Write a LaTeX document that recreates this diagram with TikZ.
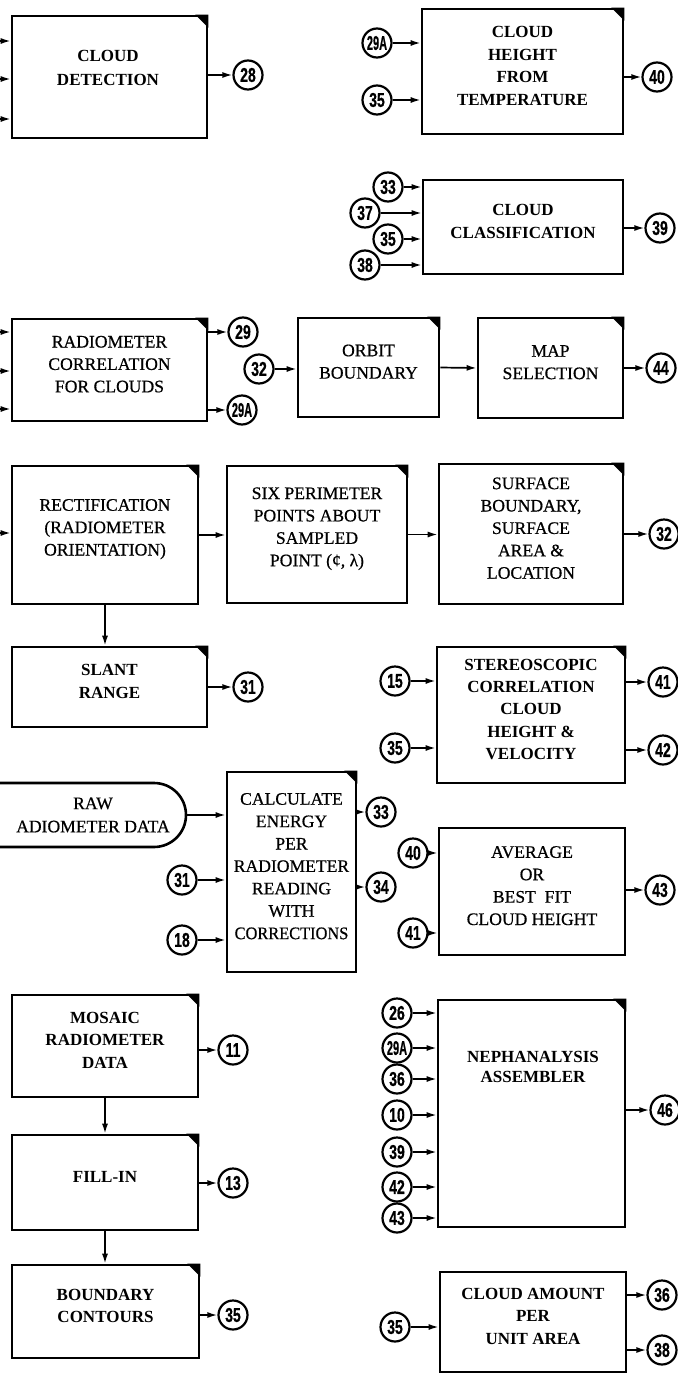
\documentclass[tikz,border=0pt]{standalone}
\usepackage{fontspec}
\setmainfont{Liberation Serif}
\newfontfamily\medfont{Liberation Serif}[FakeBold=0.6]
\newfontfamily\numfont{Liberation Sans}[FakeBold=0.8]
\usetikzlibrary{fit,arrows.meta}
\newcommand\nm[1]{\scalebox{0.7}[1]{#1}}
\newcommand\nmA[1]{\scalebox{0.55}[1]{#1}}
\newcommand\ear[1]{\fill (#1.north east) -- ([xshift=-6.5pt]#1.north east) -- ([yshift=-6.5pt]#1.north east) -- cycle;}
\begin{document}
\begin{tikzpicture}[x=0.5pt,y=-0.5pt,
  box/.style={draw,line width=1.3pt,inner sep=0pt,align=center,
    font=\bfseries\fontsize{8.5}{11.2}\selectfont},
  boxr/.style={box,font=\medfont\fontsize{8.8}{11.2}\selectfont},
  txtb/.style={align=center,inner sep=0pt,font=\bfseries\fontsize{8.5}{9.8}\selectfont},
  txtr/.style={align=center,inner sep=0pt,font=\medfont\fontsize{8.8}{11.6}\selectfont},
  num/.style={circle,draw,line width=1.1pt,minimum size=14.5pt,inner sep=0pt,
    font=\numfont\bfseries\fontsize{10}{10}\selectfont},
  arr/.style={line width=0.85pt,-{Latex[length=5pt,width=3pt]}},
  ln/.style={line width=1.3pt}]
\path[fill=white,use as bounding box] (0,0) rectangle (678,1376);

% ---------- boxes ----------
\node[box,fit={(12,16) (207,138)}] (detect) {};
\node[txtb] (tdetect) at (108,68) {CLOUD\\[2pt]DETECTION};
\node[box,fit={(422,9) (623,134)}] (cheight) {CLOUD\\HEIGHT\\FROM\\TEMPERATURE};
\node[box,fit={(423,180) (623,274)}] (cclass) {CLOUD\\CLASSIFICATION};
\node[boxr,fit={(12,319) (207,421)}] (radio) {RADIOMETER\\CORRELATION\\FOR CLOUDS};
\node[boxr,fit={(298,318) (439,417)}] (orbit) {ORBIT\\BOUNDARY};
\node[boxr,fit={(478,318) (623,418)}] (map) {MAP\\SELECTION};
\node[boxr,fit={(12,466) (198,604)}] (rect) {RECTIFICATION\\(RADIOMETER\\ORIENTATION)};
\node[boxr,fit={(227,466) (407,603)}] (six) {SIX PERIMETER\\POINTS ABOUT\\SAMPLED\\POINT (¢, λ)};
\node[boxr,fit={(439,464) (623,604)}] (surf) {SURFACE\\BOUNDARY,\\SURFACE\\AREA \&\\LOCATION};
\node[box,fit={(12,647) (207,727)}] (slant) {SLANT\\RANGE};
\node[box,fit={(437,647) (625,783)}] (stereo) {STEREOSCOPIC\\CORRELATION\\CLOUD\\HEIGHT \&\\VELOCITY};
\node[boxr,fit={(227,772) (356,972)}] (calc) {CALCULATE\\ENERGY\\PER\\RADIOMETER\\READING\\WITH\\\scalebox{0.93}[1]{CORRECTIONS}};
\node[boxr,fit={(439,828) (625,955)}] (avg) {AVERAGE\\OR\\BEST\ \ FIT\\CLOUD HEIGHT};
\node[box,fit={(12,995) (198,1097)}] (mosaic) {MOSAIC\\RADIOMETER\\DATA};
\node[box,fit={(12,1135) (198,1230)}] (fill) {FILL-IN};
\node[box,fit={(12,1265) (199,1358)}] (bound) {BOUNDARY\\CONTOURS};
\node[box,fit={(438,1000) (625,1227)}] (neph) {};
\node[txtb] (tneph) at (533,1067) {NEPHANALYSIS\\ASSEMBLER};
\node[box,fit={(440,1272) (626,1372)}] (camt) {CLOUD AMOUNT\\PER\\UNIT AREA};

\foreach \b in {detect,cheight,radio,orbit,map,rect,six,surf,slant,stereo,calc,mosaic,fill,bound,neph}{\ear{\b}}

% raw data terminal
\coordinate (rawtop) at (-10,783);
\coordinate (rawbot) at (-10,847);
\draw[ln] (rawtop) -- (154,783) arc[start angle=90,end angle=-90,radius=16pt] -- (rawbot);
\coordinate (raw) at (186,815);
\node[txtr] (traw) at (93,815) {RAW\\ADIOMETER DATA};

% ---------- reference circles ----------
\node[num] (c28) at (248,75) {\nm{28}};
\node[num] (c29Aa) at (377,43) {\nmA{29A}};
\node[num] (c35a) at (377,100) {\nm{35}};
\node[num] (c40a) at (657,77) {\nm{40}};
\node[num] (c33a) at (388,187) {\nm{33}};
\node[num] (c37) at (365,213) {\nm{37}};
\node[num] (c35b) at (388,239) {\nm{35}};
\node[num] (c38a) at (365,265) {\nm{38}};
\node[num] (c39a) at (660,228) {\nm{39}};
\node[num] (c29) at (243,332) {\nm{29}};
\node[num] (c29Ab) at (242,410) {\nmA{29A}};
\node[num] (c32a) at (259,369) {\nm{32}};
\node[num] (c44) at (661,368) {\nm{44}};
\node[num] (c32b) at (664,534) {\nm{32}};
\node[num] (c31a) at (248,687) {\nm{31}};
\node[num] (c15) at (395,681) {\nm{15}};
\node[num] (c35c) at (395,748) {\nm{35}};
\node[num] (c41a) at (663,682) {\nm{41}};
\node[num] (c42a) at (663,750) {\nm{42}};
\node[num] (c33b) at (381,812) {\nm{33}};
\node[num] (c34) at (381,887) {\nm{34}};
\node[num] (c31b) at (182,880) {\nm{31}};
\node[num] (c18) at (182,940) {\nm{18}};
\node[num] (c40b) at (413,853) {\nm{40}};
\node[num] (c41b) at (413,933) {\nm{41}};
\node[num] (c43a) at (660,890) {\nm{43}};
\node[num] (c11) at (233,1050) {\nm{11}};
\node[num] (c13) at (233,1183) {\nm{13}};
\node[num] (c35d) at (233,1315) {\nm{35}};
\node[num] (n26) at (397,1013) {\nm{26}};
\node[num] (n29A) at (397,1048) {\nmA{29A}};
\node[num] (n36) at (397,1079) {\nm{36}};
\node[num] (n10) at (397,1115) {\nm{10}};
\node[num] (n39) at (397,1152) {\nm{39}};
\node[num] (n42) at (397,1187) {\nm{42}};
\node[num] (n43) at (397,1218) {\nm{43}};
\node[num] (c46) at (665,1110) {\nm{46}};
\node[num] (c35e) at (395,1327) {\nm{35}};
\node[num] (c36) at (662,1295) {\nm{36}};
\node[num] (c38b) at (662,1350) {\nm{38}};

% ---------- stubs entering from the left edge ----------
\foreach \n/\y in {s1/41,s2/79,s3/119}{\coordinate (\n) at (0,\y); \draw[arr] (\n) -- (\n -| detect.west);}
\foreach \n/\y in {s4/332,s5/371,s6/409}{\coordinate (\n) at (0,\y); \draw[arr] (\n) -- (\n -| radio.west);}
\coordinate (s7) at (0,533); \draw[arr] (s7) -- (s7 -| rect.west);

% ---------- connectors ----------
\draw[arr] (c28 -| detect.east) -- (c28);
\draw[arr] (c29Aa) -- (c29Aa -| cheight.west);
\draw[arr] (c35a) -- (c35a -| cheight.west);
\draw[arr] (c40a -| cheight.east) -- (c40a);
\foreach \c in {c33a,c37,c35b,c38a}{\draw[arr] (\c) -- (\c -| cclass.west);}
\draw[arr] (c39a -| cclass.east) -- (c39a);
\draw[arr] (c29 -| radio.east) -- (c29);
\draw[arr] (c29Ab -| radio.east) -- (c29Ab);
\draw[arr] (c32a) -- (c32a -| orbit.west);
\draw[arr] (orbit.east) -- (map.west);
\draw[arr] (c44 -| map.east) -- (c44);
\draw[arr] (rect.east) -- (rect.east -| six.west);
\draw[arr] (six.east) -- (six.east -| surf.west);
\draw[arr] (c32b -| surf.east) -- (c32b);
\draw[arr] (rect.south) -- (rect.south |- slant.north);
\draw[arr] (c31a -| slant.east) -- (c31a);
\draw[arr] (c15) -- (c15 -| stereo.west);
\draw[arr] (c35c) -- (c35c -| stereo.west);
\draw[arr] (c41a -| stereo.east) -- (c41a);
\draw[arr] (c42a -| stereo.east) -- (c42a);
\draw[arr] (raw) -- (raw -| calc.west);
\draw[arr] (c31b) -- (c31b -| calc.west);
\draw[arr] (c18) -- (c18 -| calc.west);
\draw[arr] (c33b -| calc.east) -- (c33b);
\draw[arr] (c34 -| calc.east) -- (c34);
\draw[arr] (c40b) -- (c40b -| avg.west);
\draw[arr] (c41b) -- (c41b -| avg.west);
\draw[arr] (c43a -| avg.east) -- (c43a);
\draw[arr] (c11 -| mosaic.east) -- (c11);
\draw[arr] (mosaic.south) -- (fill.north);
\draw[arr] (c13 -| fill.east) -- (c13);
\draw[arr] (fill.south) -- (fill.south |- bound.north);
\draw[arr] (c35d -| bound.east) -- (c35d);
\foreach \c in {n26,n29A,n36,n10,n39,n42,n43}{\draw[arr] (\c) -- (\c -| neph.west);}
\draw[arr] (c46 -| neph.east) -- (c46);
\draw[arr] (c35e) -- (c35e -| camt.west);
\draw[arr] (c36 -| camt.east) -- (c36);
\draw[arr] (c38b -| camt.east) -- (c38b);
\end{tikzpicture}
\end{document}
